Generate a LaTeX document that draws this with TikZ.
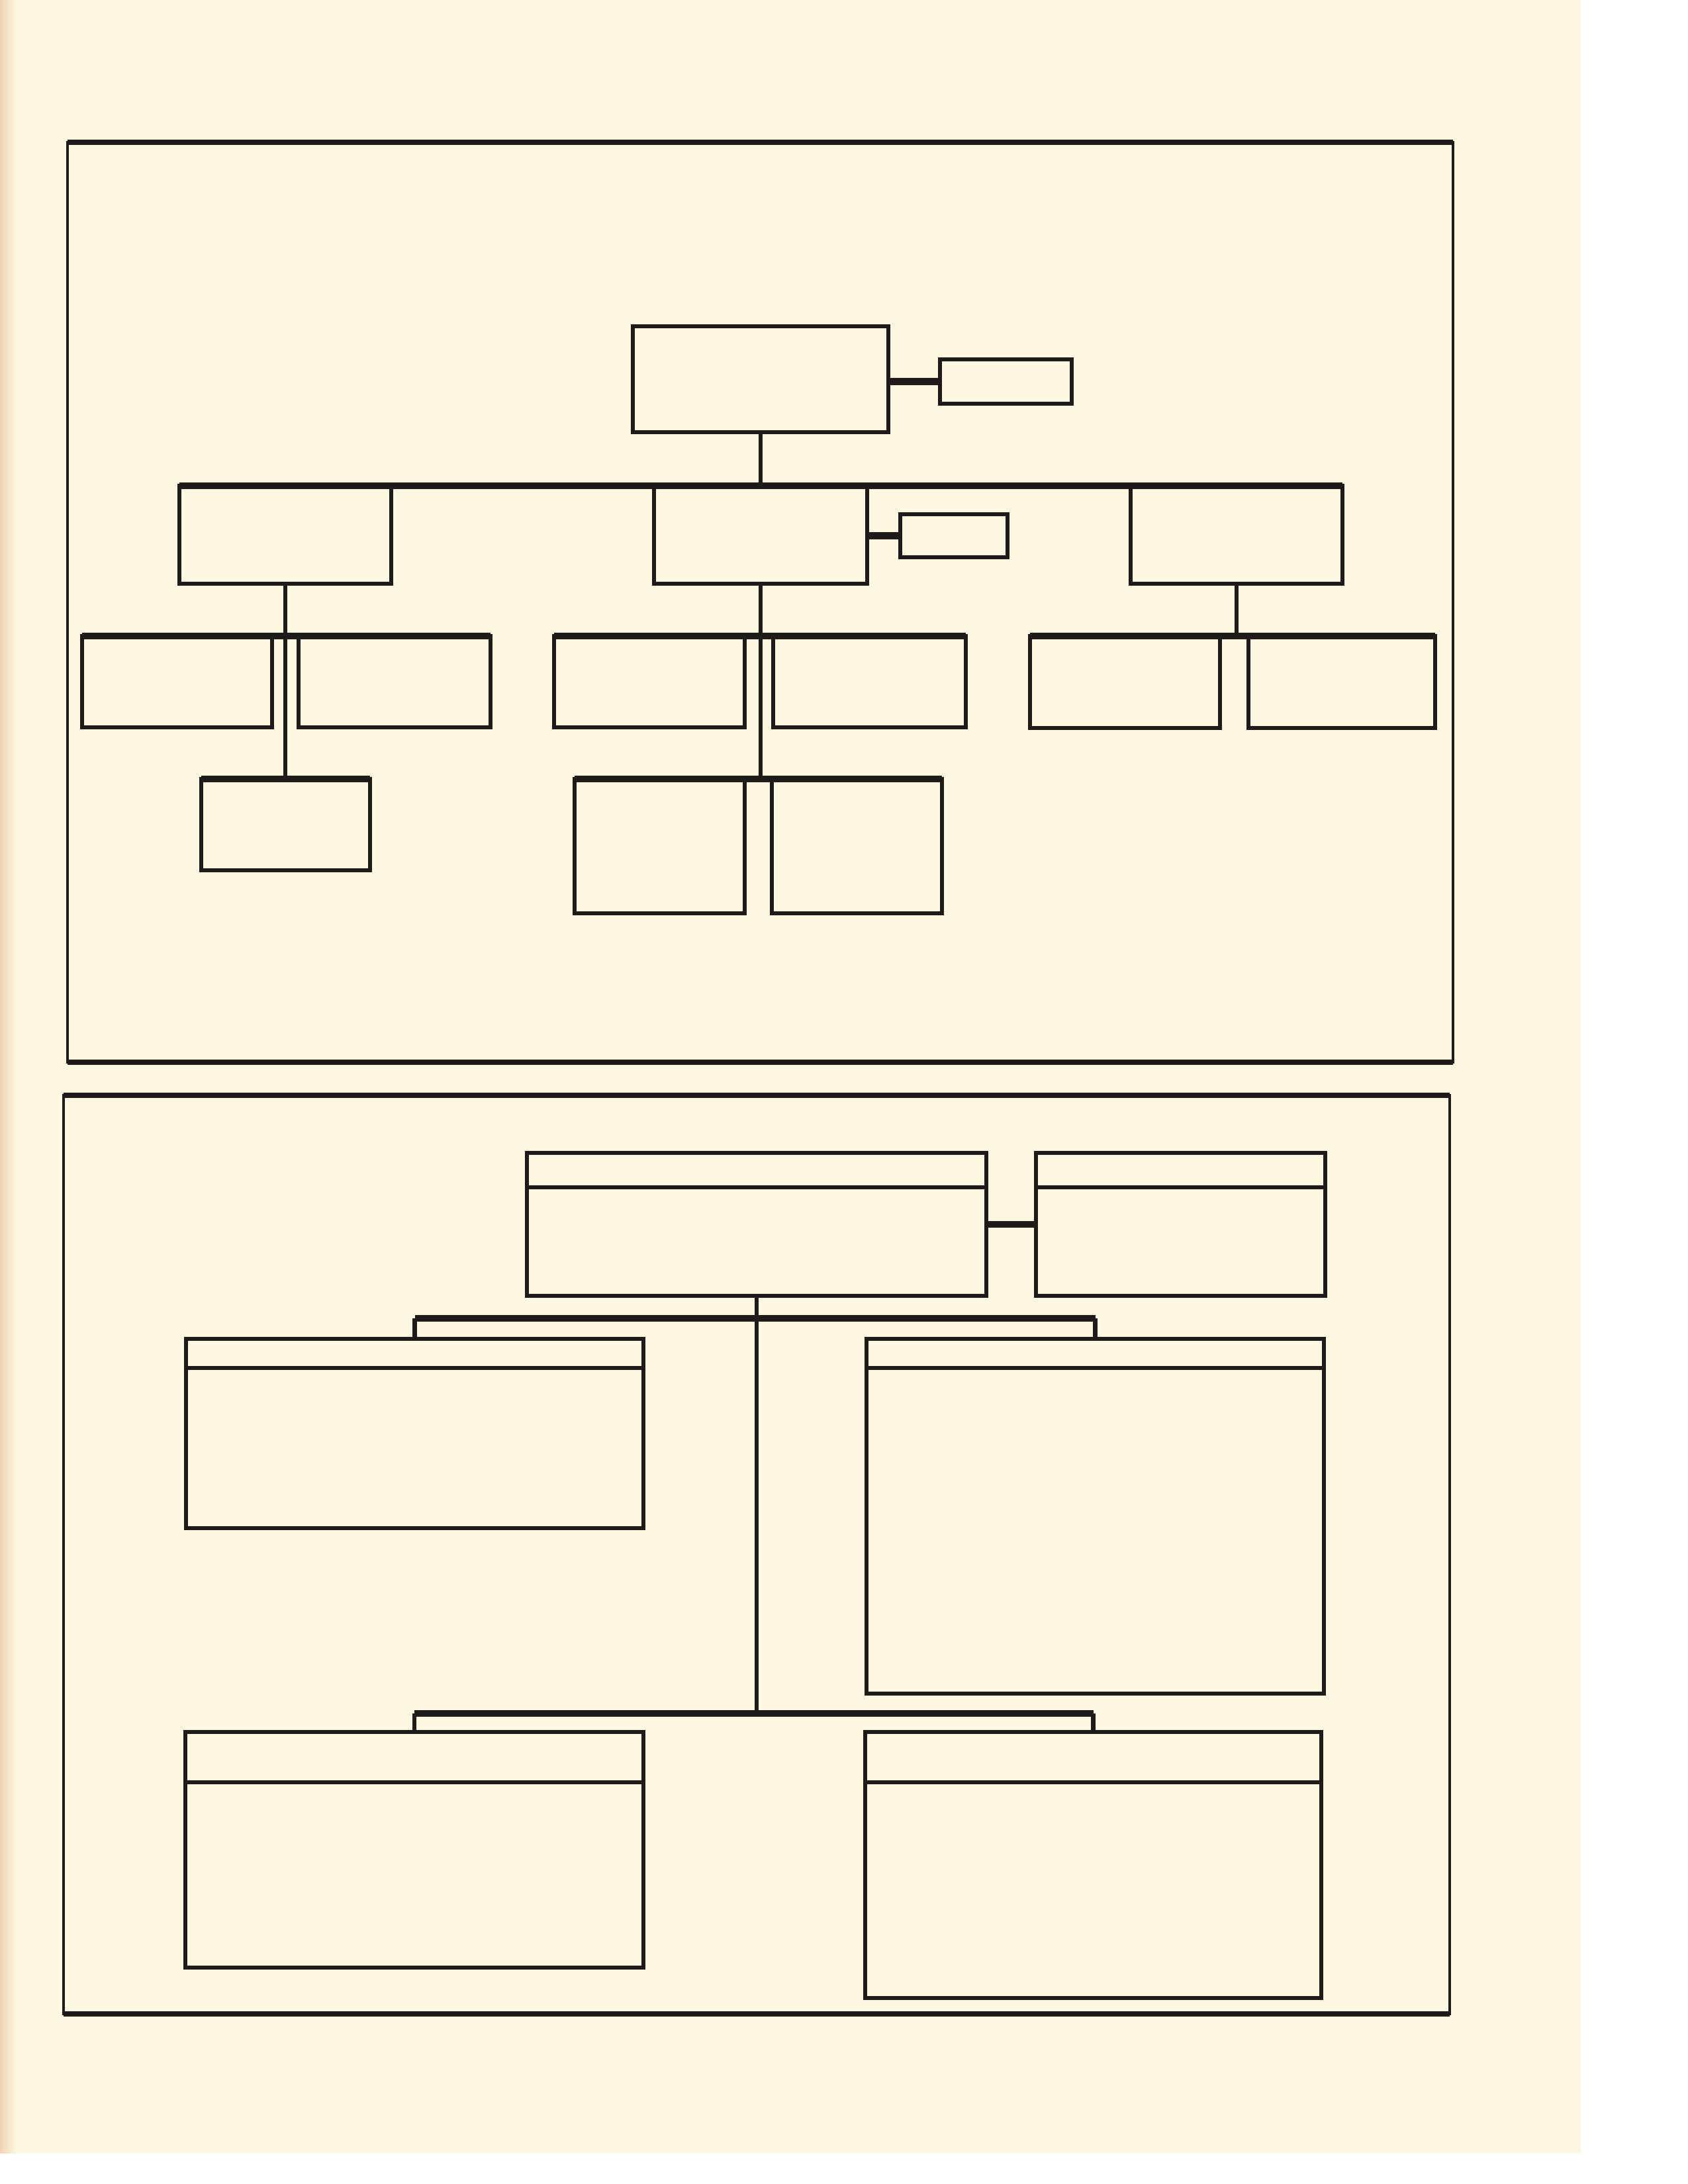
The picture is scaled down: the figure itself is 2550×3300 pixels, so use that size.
\documentclass[tikz,border=0pt]{standalone}
\definecolor{ink}{RGB}{30,28,26}
\definecolor{paper}{RGB}{252,247,225}
\definecolor{leftedge}{RGB}{240,212,178}
\newcommand\mkbox[5]{\node[box, minimum width={(#4-#2)*0.1mm}, minimum height={(#5-#3)*0.1mm}] (#1) at ({(#2+#4)/2},{(#3+#5)/2}) {};}
\newcommand\mkframe[5]{\node[framebox, minimum width={(#4-#2)*0.1mm}, minimum height={(#5-#3)*0.1mm}] (#1) at ({(#2+#4)/2},{(#3+#5)/2}) {};}
\newcommand\mkhdr[2]{\draw[hline] ([yshift={-#2*0.1mm}]#1.north west) -- ([yshift={-#2*0.1mm}]#1.north east);}
\begin{document}
\begin{tikzpicture}[x=0.1mm,y=-0.1mm,
  box/.style={draw=ink, line width=1.5pt, rectangle, inner sep=0pt, outer sep=0pt},
  framebox/.style={draw=ink, line width=1.1pt, rectangle, inner sep=0pt, outer sep=0pt},
  frameedge/.style={draw=ink, line width=2.2pt},
  hline/.style={draw=ink, line width=1.6pt},
  conn/.style={draw=ink, line width=1.9pt},
  barline/.style={draw=ink, line width=3pt},
  sidecon/.style={draw=ink, line width=3pt}]
\useasboundingbox (0,0) rectangle (2550,3300);
% page
\fill[white] (0,0) rectangle (2550,3300);
\fill[paper] (0,0) rectangle (2388,3253);
\shade[left color=leftedge, right color=paper] (0,0) rectangle (24,3253);
% frames
\mkframe{frameA}{102}{215}{2195}{1605}
\mkframe{frameB}{96}{1655}{2190}{3043}
\draw[frameedge] (frameA.north west) -- (frameA.north east);
\draw[frameedge] (frameA.south west) -- (frameA.south east);
\draw[frameedge] (frameB.north west) -- (frameB.north east);
\draw[frameedge] (frameB.south west) -- (frameB.south east);
% ---------------- top chart ----------------
\mkbox{root}{956}{493}{1342}{653}
\mkbox{rs}{1420}{543}{1619}{610}
\mkbox{A}{271}{734}{591}{882}
\mkbox{B}{988}{734}{1310}{882}
\mkbox{C}{1708}{734}{2028}{882}
\mkbox{bs}{1360}{777}{1522}{842}
\mkbox{A1}{124}{961}{411}{1099}
\mkbox{A2}{451}{961}{741}{1099}
\mkbox{A3}{304}{1177}{559}{1315}
\mkbox{B1}{837}{961}{1125}{1099}
\mkbox{B2}{1168}{961}{1459}{1099}
\mkbox{B3}{868}{1177}{1125}{1380}
\mkbox{B4}{1166}{1177}{1423}{1380}
\mkbox{C1}{1556}{961}{1843}{1100}
\mkbox{C2}{1886}{961}{2168}{1100}
\draw[sidecon] (root.east |- rs.west) -- (rs.west);
\draw[conn] (root.south) -- (root.south |- A.north);
\draw[barline] (A.north west) -- (C.north east);
\draw[sidecon] (B.east |- bs.west) -- (bs.west);
\draw[conn] (A.south) -- (A.south |- A3.north);
\draw[barline] (A1.north west) -- (A2.north east);
\draw[barline] (A3.north west) -- (A3.north east);
\draw[conn] (B.south) -- (B.south |- B3.north);
\draw[barline] (B1.north west) -- (B2.north east);
\draw[barline] (B3.north west) -- (B4.north east);
\draw[conn] (C.south) -- (C.south |- C1.north);
\draw[barline] (C1.north west) -- (C2.north east);
% ---------------- bottom chart ----------------
\mkbox{T}{796}{1742}{1490}{1958}
\mkbox{S}{1565}{1742}{2002}{1958}
\mkbox{L}{281}{2023}{972}{2309}
\mkbox{R}{1309}{2023}{2000}{2559}
\mkbox{LL}{280}{2617}{972}{2973}
\mkbox{LR}{1307}{2617}{1996}{3019}
\mkhdr{T}{52}
\mkhdr{S}{52}
\mkhdr{L}{44}
\mkhdr{R}{44}
\mkhdr{LL}{76}
\mkhdr{LR}{76}
\coordinate (u) at (1143,1992);
\coordinate (v) at (1143,2589);
\draw[sidecon] (T.east |- S.west) -- (S.west);
\draw[conn] (T.south) -- (T.south |- v);
\draw[barline] (L.north |- u) -- (R.north |- u);
\draw[conn] (L.north |- u) -- (L.north);
\draw[conn] (R.north |- u) -- (R.north);
\draw[barline] (LL.north |- v) -- (LR.north |- v);
\draw[conn] (LL.north |- v) -- (LL.north);
\draw[conn] (LR.north |- v) -- (LR.north);
\end{tikzpicture}
\end{document}
